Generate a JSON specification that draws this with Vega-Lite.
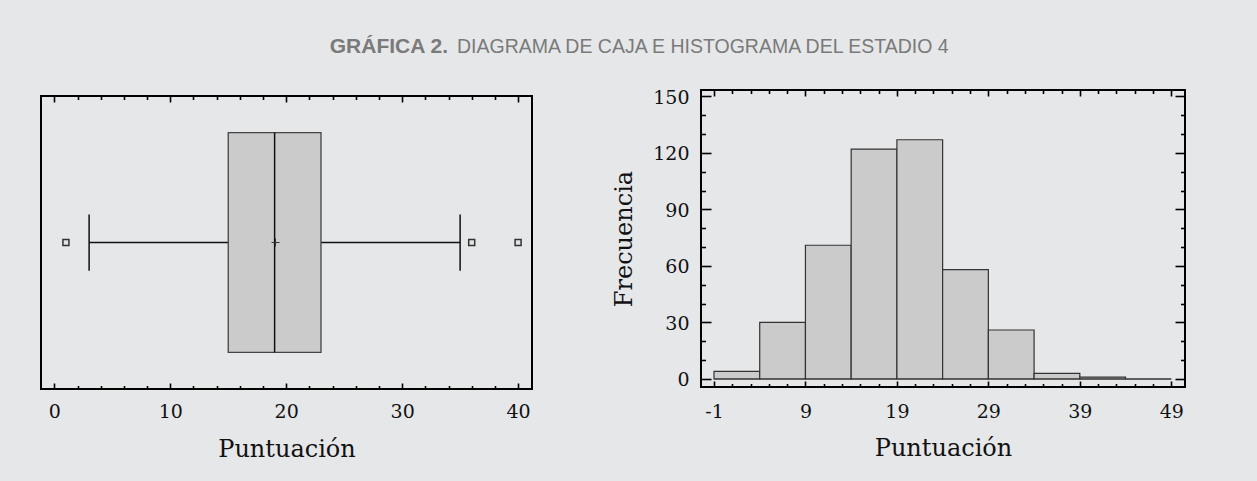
{
  "$schema": "https://vega.github.io/schema/vega-lite/v6.json",
  "background": "#e6e7e9",
  "autosize": {"type": "pad"},
  "padding": {"left": 40, "top": 35, "right": 72, "bottom": 20},
  "config": {
    "view": {"stroke": "#000000", "strokeWidth": 2, "fill": null},
    "axis": {
      "labelFont": "DejaVu Serif", "labelFontSize": 19, "labelColor": "#111111",
      "titleFont": "DejaVu Serif", "titleFontSize": 24, "titleFontWeight": "normal", "titleColor": "#111111",
      "grid": false, "domain": false, "tickColor": "#000000", "tickWidth": 1.6,
      "labelFlush": false, "labelOverlap": false, "labelBound": false
    },
    "title": {"font": "Liberation Sans", "fontSize": 19.5, "color": "#7a7a7a", "frame": "group"}
  },
  "datasets": {
    "summary": [{"lower": 3, "q1": 15, "median": 19, "q3": 23, "upper": 35, "mean": 19.08}],
    "outliers": [{"score": 1}, {"score": 36}, {"score": 40}],
    "histogram": [
      {"bin_start": -1, "bin_end": 4, "count": 4},
      {"bin_start": 4, "bin_end": 9, "count": 30},
      {"bin_start": 9, "bin_end": 14, "count": 71},
      {"bin_start": 14, "bin_end": 19, "count": 122},
      {"bin_start": 19, "bin_end": 24, "count": 127},
      {"bin_start": 24, "bin_end": 29, "count": 58},
      {"bin_start": 29, "bin_end": 34, "count": 26},
      {"bin_start": 34, "bin_end": 39, "count": 3},
      {"bin_start": 39, "bin_end": 44, "count": 1},
      {"bin_start": 44, "bin_end": 49, "count": 0}
    ]
  },
  "spacing": -77,
  "hconcat": [
    {
      "width": 491, "height": 299,
      "view": {"stroke": null},
      "title": {"text": "GRÁFICA 2.", "anchor": "end", "dx": -84, "offset": 33, "fontWeight": "bold", "fontSize": 21},
      "resolve": {"axis": {"x": "independent", "y": "independent"}},
      "layer": [
        {
          "data": {"name": "summary"},
          "mark": {"type": "rule", "color": "#111111", "strokeWidth": 1.3},
          "encoding": {
            "x": {"field": "lower", "type": "quantitative",
              "scale": {"domain": [-1.15, 41.2], "nice": false, "zero": false},
              "axis": {"orient": "bottom",
                "values": [0,2,4,6,8,10,12,14,16,18,20,22,24,26,28,30,32,34,36,38,40],
                "labelExpr": "datum.value % 10 === 0 ? datum.label : ''",
                "tickSize": {"condition": {"test": "datum.value % 10 === 0", "value": -6}, "value": -3.5},
                "labelPadding": 19, "title": "Puntuación", "titlePadding": 14}},
            "x2": {"field": "upper"},
            "y": {"datum": 0.5, "type": "quantitative", "scale": {"domain": [0, 1.0205], "nice": false, "zero": false}, "axis": null}
          }
        },
        {
          "data": {"name": "summary"},
          "mark": {"type": "rect", "fill": "#cbcbcb", "stroke": "#444444", "strokeWidth": 1.3},
          "encoding": {
            "x": {"field": "q1", "type": "quantitative",
              "axis": {"orient": "top", "offset": -6,
                "values": [0,2,4,6,8,10,12,14,16,18,20,22,24,26,28,30,32,34,36,38,40],
                "tickSize": {"condition": {"test": "datum.value % 10 === 0", "value": -6}, "value": -3.5},
                "labels": false, "title": null}},
            "x2": {"field": "q3"},
            "y": {"datum": 0.125, "type": "quantitative", "axis": null},
            "y2": {"datum": 0.875}
          }
        },
        {
          "data": {"name": "summary"},
          "mark": {"type": "rule", "color": "#111111", "strokeWidth": 1.5},
          "encoding": {
            "x": {"field": "median", "type": "quantitative", "axis": null},
            "y": {"datum": 0.125, "type": "quantitative", "axis": null},
            "y2": {"datum": 0.875}
          }
        },
        {
          "data": {"name": "summary"},
          "mark": {"type": "rule", "color": "#111111", "strokeWidth": 1.5},
          "encoding": {
            "x": {"field": "lower", "type": "quantitative", "axis": null},
            "y": {"datum": 0.404, "type": "quantitative", "axis": null},
            "y2": {"datum": 0.596}
          }
        },
        {
          "data": {"name": "summary"},
          "mark": {"type": "rule", "color": "#111111", "strokeWidth": 1.5},
          "encoding": {
            "x": {"field": "upper", "type": "quantitative", "axis": null},
            "y": {"datum": 0.404, "type": "quantitative", "axis": null},
            "y2": {"datum": 0.596}
          }
        },
        {
          "data": {"name": "outliers"},
          "mark": {"type": "point", "shape": "square", "size": 36, "filled": true, "fill": "#e4e4e4", "stroke": "#333333", "strokeWidth": 1.5, "opacity": 1},
          "encoding": {
            "x": {"field": "score", "type": "quantitative", "axis": null},
            "y": {"datum": 0.5, "type": "quantitative", "axis": null}
          }
        },
        {
          "data": {"name": "summary"},
          "mark": {"type": "point", "shape": "M-1,0L1,0M0,-1L0,1", "size": 64, "filled": false, "stroke": "#333333", "strokeWidth": 1, "opacity": 1},
          "encoding": {
            "x": {"field": "mean", "type": "quantitative", "axis": null},
            "y": {"datum": 0.5, "type": "quantitative", "axis": null}
          }
        },
        {
          "data": {"name": "summary"},
          "mark": {"type": "rect", "filled": false, "stroke": "#000000", "strokeWidth": 2},
          "encoding": {
            "x": {"datum": -1.15, "type": "quantitative", "axis": null},
            "x2": {"datum": 41.2},
            "y": {"datum": 0, "type": "quantitative", "axis": null},
            "y2": {"datum": 1}
          }
        }
      ]
    },
    {
      "width": 484, "height": 297,
      "title": {"text": "DIAGRAMA DE CAJA E HISTOGRAMA DEL ESTADIO 4", "anchor": "start", "dx": -244, "offset": 31, "fontWeight": "normal"},
      "resolve": {"axis": {"x": "independent", "y": "independent"}},
      "layer": [
        {
          "data": {"name": "histogram"},
          "mark": {"type": "rect", "fill": "#cbcbcb", "stroke": "#333333", "strokeWidth": 1.2},
          "encoding": {
            "x": {"field": "bin_start", "type": "quantitative",
              "scale": {"domain": [-2.42, 50.5], "nice": false, "zero": false},
              "axis": {"orient": "bottom",
                "values": [-1,1,3,5,7,9,11,13,15,17,19,21,23,25,27,29,31,33,35,37,39,41,43,45,47,49],
                "labelExpr": "(datum.value + 1) % 10 === 0 ? '' + datum.value : ''",
                "tickSize": {"condition": {"test": "(datum.value + 1) % 10 === 0", "value": -6}, "value": -3.5},
                "labelPadding": 21, "title": "Puntuación", "titlePadding": 13}},
            "x2": {"field": "bin_end"},
            "y": {"field": "count", "type": "quantitative",
              "scale": {"domain": [-4.26, 153.4], "nice": false, "zero": false},
              "axis": {"orient": "left",
                "values": [0,10,20,30,40,50,60,70,80,90,100,110,120,130,140,150],
                "labelExpr": "datum.value % 30 === 0 ? datum.label : ''",
                "tickSize": {"condition": {"test": "datum.value % 30 === 0", "value": -10}, "value": -4.5},
                "labelPadding": 22, "labelOffset": 1, "title": "Frecuencia", "titlePadding": 16}},
            "y2": {"datum": 0}
          }
        },
        {
          "data": {"name": "histogram"},
          "mark": {"type": "rule", "color": "#333333", "strokeWidth": 1.2},
          "encoding": {
            "x": {"aggregate": "min", "field": "bin_start", "type": "quantitative",
              "axis": {"orient": "top",
                "values": [-1,1,3,5,7,9,11,13,15,17,19,21,23,25,27,29,31,33,35,37,39,41,43,45,47,49],
                "tickSize": {"condition": {"test": "(datum.value + 1) % 10 === 0", "value": -6}, "value": -3.5},
                "labels": false, "title": null}},
            "x2": {"aggregate": "max", "field": "bin_end"},
            "y": {"datum": 0, "type": "quantitative",
              "axis": {"orient": "right",
                "values": [0,10,20,30,40,50,60,70,80,90,100,110,120,130,140,150],
                "tickSize": {"condition": {"test": "datum.value % 30 === 0", "value": -10}, "value": -4.5},
                "labels": false, "title": null}}
          }
        }
      ]
    }
  ]
}
